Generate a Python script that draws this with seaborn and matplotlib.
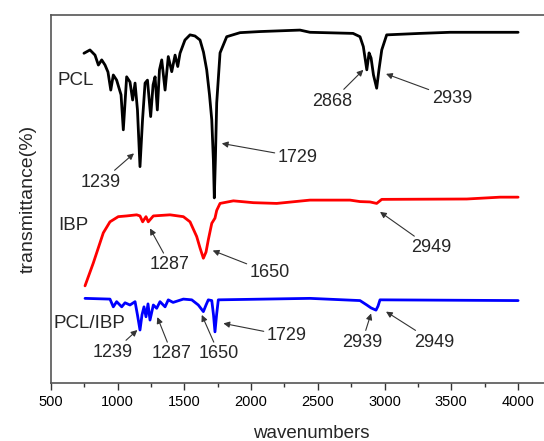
import pandas as pd
import matplotlib
matplotlib.use("Agg")
import matplotlib.pyplot as plt
import seaborn as sns

# PCL spectrum (wavenumber, transmittance, arbitrary offset units)
pcl_wn = [747, 792, 830, 855, 880, 905, 927, 948, 967, 992, 1025, 1042, 1067, 1092,
          1112, 1130, 1148, 1167, 1186, 1205, 1223, 1247, 1265, 1280, 1297, 1313, 1330,
          1355, 1379, 1405, 1430, 1450, 1467, 1504, 1542, 1579, 1617, 1643, 1667, 1688,
          1705, 1717, 1724, 1732, 1742, 1767, 1817, 1917, 2067, 2366, 2441, 2764, 2816,
          2841, 2867, 2884, 2899, 2917, 2941, 2958, 2979, 3016, 3266, 3491, 4001]
pcl_t = [89.6, 90.5, 89.1, 86.4, 87.8, 86.4, 84.5, 79.6, 83.7, 82.3, 78.3, 68.8, 83.2, 81.8,
         76.9, 81.5, 74.2, 58.8, 71.5, 81.5, 82.3, 72.4, 81.0, 83.2, 74.2, 85.1, 87.8,
         79.6, 88.7, 84.6, 89.1, 86.0, 89.6, 93.2, 94.6, 94.3, 93.2, 89.9, 85.1, 78.3,
         71.5, 60.6, 50.3, 60.6, 76.1, 89.7, 94.1, 95.2, 95.5, 95.9, 95.3, 95.0, 94.1,
         91.4, 85.1, 89.7, 88.3, 83.7, 80.1, 85.1, 90.5, 94.6, 95.0, 95.3, 95.3]

# IBP spectrum
ibp_wn = [755, 817, 892, 942, 1004, 1067, 1142, 1167, 1187, 1212, 1229, 1267, 1392, 1492,
          1542, 1592, 1617, 1642, 1662, 1679, 1705, 1729, 1742, 1767, 1867, 2017, 2192,
          2441, 2741, 2816, 2891, 2941, 2979, 3616, 3866, 4001]
ibp_t = [26.4, 32.6, 40.8, 43.8, 45.2, 45.4, 45.7, 45.4, 43.8, 45.2, 43.8, 45.4, 45.7, 45.2,
         43.8, 39.8, 36.7, 33.9, 35.6, 38.9, 43.4, 44.8, 46.9, 48.8, 49.5, 49.0, 48.8,
         49.7, 49.7, 49.3, 49.2, 48.8, 49.9, 50.0, 50.5, 50.5]

# PCL/IBP spectrum
mix_wn = [755, 942, 967, 992, 1030, 1055, 1092, 1130, 1148, 1167, 1182, 1197, 1212, 1227,
          1242, 1267, 1292, 1317, 1355, 1379, 1415, 1492, 1555, 1604, 1642, 1662, 1679,
          1705, 1718, 1729, 1741, 1754, 2441, 2816, 2867, 2899, 2936, 2951, 2966, 4001]
mix_t = [23.0, 22.8, 20.7, 22.1, 20.7, 21.8, 21.2, 22.1, 18.5, 14.4, 18.5, 20.7, 18.0, 21.5,
         17.1, 21.2, 20.3, 22.1, 20.7, 22.6, 21.9, 22.8, 22.6, 21.2, 19.4, 21.2, 22.6,
         22.4, 18.5, 13.9, 18.5, 22.6, 23.0, 22.4, 21.2, 20.4, 19.8, 20.9, 22.6, 22.4]

series_names = ["PCL", "IBP", "PCL/IBP"]
series_colors = ["black", "red", "blue"]

# peak labels: text, text position, arrow tip
peak_labels = ["1239", "1729", "2868", "2939", "1287", "1650", "2949",
               "1239", "1287", "1650", "1729", "2939", "2949"]
label_xy = [(875, 54.6), (2351, 61.4), (2606, 76.6), (3506, 77.4),
            (1392, 32.1), (2142, 29.9), (3348, 36.7),
            (965, 8.4), (1407, 7.9), (1759, 7.9), (2269, 12.8), (2831, 11.1), (3371, 11.1)]
tip_xy = [(1122, 62.4), (1780, 65.1), (2841, 85.1), (3011, 84.0),
          (1242, 42.0), (1712, 36.0), (2966, 46.5),
          (1147, 14.4), (1297, 17.9), (1630, 18.5), (1792, 16.2), (2899, 18.9), (3011, 19.4)]

sns.set_style("ticks")
plt.rcParams['font.family'] = ['Liberation Sans', 'DejaVu Sans']

df = pd.concat([
    pd.DataFrame({'wn': pcl_wn, 't': pcl_t, 'sample': 'PCL'}),
    pd.DataFrame({'wn': ibp_wn, 't': ibp_t, 'sample': 'IBP'}),
    pd.DataFrame({'wn': mix_wn, 't': mix_t, 'sample': 'PCL/IBP'}),
])

fig = plt.figure(figsize=(5.44, 4.41), dpi=100)
ax = fig.add_axes([0.09375, 0.1315, 0.9565, 0.8345])

sns.lineplot(data=df, x='wn', y='t', hue='sample', hue_order=series_names,
             palette=series_colors, estimator=None, sort=False, lw=2.0,
             legend=False, ax=ax)

ax.set_xlim(500, 4400)
ax.set_ylim(0, 100)
ax.set_xticks(range(500, 4001, 500))
ax.set_xticks(range(750, 4400, 500), minor=True)
ax.set_yticks([])
ax.tick_params(axis='x', which='major', length=5, width=1, labelsize=10.5, colors='#333333')
ax.tick_params(axis='x', which='minor', length=3, width=1, colors='#333333')
ax.tick_params(axis='x', labelcolor='black')
for s in ax.spines.values():
    s.set_color('#555555')
    s.set_linewidth(1.2)

ax.set_xlabel('wavenumbers', fontsize=13.5, labelpad=12)
ax.set_ylabel('transmittance(%)', fontsize=14, labelpad=10)

ax.text(552, 82.3, 'PCL', fontsize=13.5, va='center', ha='left')
ax.text(552, 42.9, 'IBP', fontsize=13.5, va='center', ha='left')
ax.text(515, 16.3, 'PCL/IBP', fontsize=13.5, va='center', ha='left')

for lab, txy, pxy in zip(peak_labels, label_xy, tip_xy):
    ax.annotate(lab, xy=pxy, xytext=txy, fontsize=13, ha='center', va='center',
                arrowprops=dict(arrowstyle='-|>', color='#333333', lw=0.8,
                                mutation_scale=9, shrinkA=0, shrinkB=0))

fig.savefig('out.png', dpi=100)
